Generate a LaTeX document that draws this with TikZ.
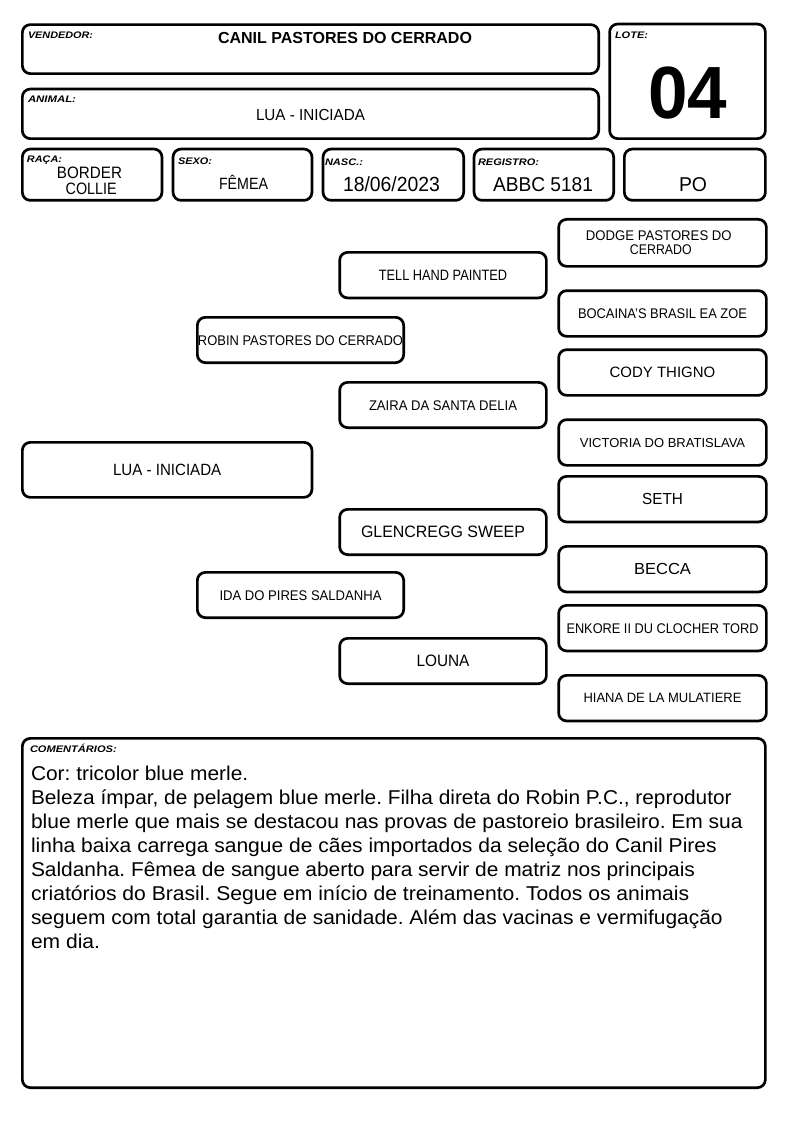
\documentclass[tikz,border=0pt]{standalone}
\usepackage{fontspec}
\usepackage{graphicx}
\setmainfont{Liberation Sans}
\frenchspacing
\newcommand\fitt[2]{\resizebox{#1pt}{\height}{#2}}
\newcommand\fsz[1]{\fontsize{#1}{#1}\selectfont}
\begin{document}
\begin{tikzpicture}[x=1pt,y=-1pt,
  box/.style={draw=black, line width=2.7pt, rounded corners=8pt, inner sep=0pt, outer sep=0pt, fill=white},
  lbl/.style={inner sep=0pt, outer sep=0pt, font=\fsz{9.5}\bfseries\itshape, anchor=base west},
  val/.style={inner sep=0pt, outer sep=0pt, anchor=base},
  com/.style={inner sep=0pt, outer sep=0pt, font=\fsz{20}, anchor=base west}]
\useasboundingbox[fill=white] (0,0) rectangle (794,1123);
\newcommand\hdrbox[5]{%
  \pgfmathsetmacro\bw{#4-#2-2.7}\pgfmathsetmacro\bh{#5-#3-2.7}%
  \node[box, minimum width=\bw pt, minimum height=\bh pt] (#1) at ({(#2+#4)/2},{(#3+#5)/2}) {};}
\newcommand\pedbox[8]{%
  \pgfmathsetmacro\bw{#4-#2-2.7}\pgfmathsetmacro\bh{#5-#3-2.7}\pgfmathsetmacro\th{#6*0.716}%
  \node[box, minimum width=\bw pt, minimum height=\bh pt, font=\fsz{#6}, text height=\th pt, text depth=0pt] (#1) at ({(#2+#4)/2},{(#3+#5)/2}) {\fitt{#7}{#8}};}

% header boxes
\hdrbox{vend}{21}{23.3}{600}{75}
\hdrbox{anim}{21}{87.7}{600}{140}
\hdrbox{lote}{608.3}{22.7}{766.7}{140}
\hdrbox{raca}{21}{147.7}{163.3}{201.7}
\hdrbox{sexo}{171.7}{147.7}{313.3}{201.7}
\hdrbox{nasc}{321.7}{147.7}{465}{201.7}
\hdrbox{reg}{472.7}{147.7}{615}{201.7}
\hdrbox{po}{623}{147.7}{766.7}{201.7}
\hdrbox{coment}{21}{737}{766.7}{1089}

% header labels
\node[lbl] (lvend) at (28,38.3) {\fitt{65}{VENDEDOR:}};
\node[lbl] (lanim) at (28,102.3) {\fitt{48}{ANIMAL:}};
\node[lbl] (llote) at (615,39) {\fitt{33}{LOTE:}};
\node[lbl] (lraca) at (27,162.7) {\fitt{35}{RAÇA:}};
\node[lbl] (lsexo) at (178,165) {\fitt{34}{SEXO:}};
\node[lbl] (lnasc) at (325,165.7) {\fitt{38}{NASC.:}};
\node[lbl] (lreg) at (478,165.7) {\fitt{61}{REGISTRO:}};
\node[lbl] (lcom) at (30,752.7) {\fitt{86.7}{COMENTÁRIOS:}};

% header values
\node[val, font=\fsz{16}\bfseries] (tvend) at (345,43.3) {\fitt{254}{CANIL PASTORES DO CERRADO}};
\node[val, font=\fsz{16}] (tanim) at (310.5,121) {\fitt{109}{LUA - INICIADA}};
\node[val, font=\fsz{74}\bfseries] (tlote) at (687.5,118.3) {\fitt{79}{04}};
\node[val, font=\fsz{16.5}] (traca1) at (89.5,179) {\fitt{65}{BORDER}};
\node[val, font=\fsz{16.5}] (traca2) at (91.2,195) {\fitt{51}{COLLIE}};
\node[val, font=\fsz{16.3}] (tsexo) at (243.5,190) {\fitt{49}{FÊMEA}};
\node[val, font=\fsz{20.5}] (tnasc) at (391.5,191.7) {\fitt{97}{18/06/2023}};
\node[val, font=\fsz{20}] (treg) at (543,191.7) {\fitt{100}{ABBC 5181}};
\node[val, font=\fsz{20}] (tpo) at (693,191.7) {\fitt{28}{PO}};

% pedigree
\pedbox{lua}{21}{441}{313.3}{498.7}{16.3}{108.3}{LUA - INICIADA}
\pedbox{robin}{196}{316}{405}{364}{14}{205}{ROBIN PASTORES DO CERRADO}
\pedbox{ida}{196}{571}{405}{619}{14}{162}{IDA DO PIRES SALDANHA}
\pedbox{tell}{338.3}{251}{547.7}{299.3}{15}{128.3}{TELL HAND PAINTED}
\pedbox{zaira}{338.3}{381}{547.7}{429}{14}{148}{ZAIRA DA SANTA DELIA}
\pedbox{glen}{338.3}{508}{547.7}{556}{16.5}{164}{GLENCREGG SWEEP}
\pedbox{louna}{338.3}{637}{547.7}{685}{16.5}{53}{LOUNA}
\hdrbox{dodge}{557.3}{218}{767.7}{267.7}
\node[val, font=\fsz{14}] (tdodge1) at (658.8,240.3) {\fitt{145.7}{DODGE PASTORES DO}};
\node[val, font=\fsz{14}] (tdodge2) at (660.8,254.7) {\fitt{61.7}{CERRADO}};
\pedbox{bocaina}{557.3}{289.3}{767.7}{337.7}{14}{169}{BOCAINA'S BRASIL EA ZOE}
\pedbox{cody}{557.3}{348.3}{767.7}{396.7}{15}{105.7}{CODY THIGNO}
\pedbox{victoria}{557.3}{418.3}{767.7}{466.7}{13}{165.3}{VICTORIA DO BRATISLAVA}
\pedbox{seth}{557.3}{475}{767.7}{523.3}{16}{40.7}{SETH}
\pedbox{becca}{557.3}{545}{767.7}{593.3}{16}{57}{BECCA}
\pedbox{enkore}{557.3}{604}{767.7}{652.3}{14}{192}{ENKORE II DU CLOCHER TORD}
\pedbox{hiana}{557.3}{674}{767.7}{722.3}{13.5}{158}{HIANA DE LA MULATIERE}

% comments
\node[com] (c1) at (31,780) {\fitt{217.3}{Cor: tricolor blue merle.}};
\node[com] (c2) at (31,804) {\fitt{700.7}{Beleza ímpar, de pelagem blue merle. Filha direta do Robin P.C., reprodutor}};
\node[com] (c3) at (31,828) {\fitt{711.7}{blue merle que mais se destacou nas provas de pastoreio brasileiro. Em sua}};
\node[com] (c4) at (31,852) {\fitt{685.7}{linha baixa carrega sangue de cães importados da seleção do Canil Pires}};
\node[com] (c5) at (31,876) {\fitt{664}{Saldanha. Fêmea de sangue aberto para servir de matriz nos principais}};
\node[com] (c6) at (31,900) {\fitt{658.3}{criatórios do Brasil. Segue em início de treinamento. Todos os animais}};
\node[com] (c7) at (31,924) {\fitt{691.7}{seguem com total garantia de sanidade. Além das vacinas e vermifugação}};
\node[com] (c8) at (31,948) {\fitt{69}{em dia.}};
\end{tikzpicture}
\end{document}
